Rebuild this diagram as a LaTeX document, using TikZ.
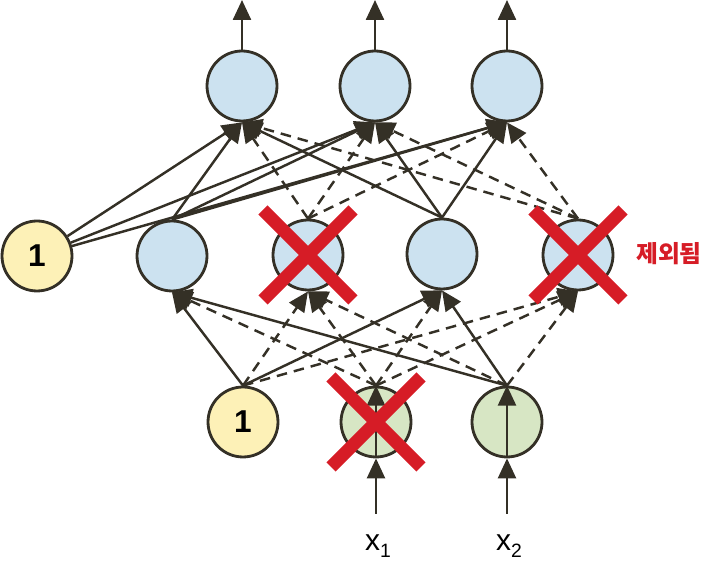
\documentclass[tikz,border=0pt]{standalone}
\usepackage{fontspec}
\setmainfont{Liberation Sans}
\newfontfamily\krfont{Noto Sans CJK KR}
\usetikzlibrary{arrows.meta}

\definecolor{nodeblue}{RGB}{204,226,240}
\definecolor{nodeyellow}{RGB}{253,241,183}
\definecolor{nodegreen}{RGB}{215,230,196}
\definecolor{linecol}{RGB}{52,48,38}
\definecolor{dropred}{RGB}{214,28,38}

\tikzset{
  neuron/.style={circle, draw=linecol, line width=1.6pt, minimum size=1.4cm,
    inner sep=0pt, font=\fontsize{18}{20}\selectfont\bfseries},
  hidden/.style={neuron, fill=nodeblue},
  bias/.style={neuron, fill=nodeyellow},
  input/.style={neuron, fill=nodegreen},
  edge/.style={line width=1.4pt, draw=linecol,
    -{Triangle[length=0.4cm,width=0.36cm]}},
  dropedge/.style={edge, dash pattern=on 6pt off 4pt},
  dropmark/.style={line width=7.4pt, draw=dropred},
}

\begin{document}
\begin{tikzpicture}[x=0.02cm, y=-0.02cm]
      \useasboundingbox (0,0) rectangle (704,563);

      % Output layer
      \node[hidden] (o1) at (242,86) {};
      \node[hidden] (o2) at (375,86) {};
      \node[hidden] (o3) at (507,86) {};
      \coordinate (out1) at (242,0);
      \coordinate (out2) at (375,0);
      \coordinate (out3) at (507,0);

      % Hidden layer
      \node[bias] (hb) at (37,256) {1};
      \node[hidden] (h1) at (172,256) {};
      \node[hidden] (h2) at (308,255) {};
      \node[hidden] (h3) at (442,254) {};
      \node[hidden] (h4) at (578,255) {};
      \node[text=dropred, font=\krfont\bfseries\fontsize{13.5}{15}\selectfont] (drop) at (669,254) {제외됨};

      % Input layer
      \node[bias] (ib) at (243,422) {1};
      \node[input] (x1) at (376,422) {};
      \node[input] (x2) at (507,422) {};
      \coordinate (in1) at (376,514);
      \coordinate (in2) at (507,514);
      \node (lx1) at (378,546) {\fontsize{17}{18}\selectfont x\raisebox{-0.45ex}{\fontsize{11}{12}\selectfont 1}};
      \node (lx2) at (509,546) {\fontsize{17}{18}\selectfont x\raisebox{-0.45ex}{\fontsize{11}{12}\selectfont 2}};

      % Outputs
      \draw[edge] (o1.north) -- (out1);
      \draw[edge] (o2.north) -- (out2);
      \draw[edge] (o3.north) -- (out3);

      % Hidden to output
      \draw[edge] (hb) -- (o1.south);
      \draw[edge] (hb) -- (o2.south);
      \draw[edge] (hb) -- (o3.south);
      \draw[edge] (h1.north) -- (o1.south);
      \draw[edge] (h1.north) -- (o2.south);
      \draw[edge] (h1.north) -- (o3.south);
      \draw[dropedge] (h2.north) -- (o1.south);
      \draw[dropedge] (h2.north) -- (o2.south);
      \draw[dropedge] (h2.north) -- (o3.south);
      \draw[edge] (h3.north) -- (o1.south);
      \draw[edge] (h3.north) -- (o2.south);
      \draw[edge] (h3.north) -- (o3.south);
      \draw[dropedge] (h4.north) -- (o1.south);
      \draw[dropedge] (h4.north) -- (o2.south);
      \draw[dropedge] (h4.north) -- (o3.south);

      % Input to hidden
      \draw[edge] (ib.north) -- (h1.south);
      \draw[dropedge] (ib.north) -- (h2.south);
      \draw[edge] (ib.north) -- (h3.south);
      \draw[dropedge] (ib.north) -- (h4.south);
      \draw[dropedge] (x1.north) -- (h1.south);
      \draw[dropedge] (x1.north) -- (h2.south);
      \draw[dropedge] (x1.north) -- (h3.south);
      \draw[dropedge] (x1.north) -- (h4.south);
      \draw[edge] (x2.north) -- (h1.south);
      \draw[dropedge] (x2.north) -- (h2.south);
      \draw[edge] (x2.north) -- (h3.south);
      \draw[dropedge] (x2.north) -- (h4.south);

      % Inputs
      \draw[edge] (in1) -- (x1.south);
      \draw[edge] (x1.south) -- (x1.north);
      \draw[edge] (in2) -- (x2.south);
      \draw[edge] (x2.south) -- (x2.north);

      % Dropped neurons
      \draw[dropmark] (h2) +(-45,-45) -- +(45,45) +(45,-45) -- +(-45,45);
      \draw[dropmark] (h4) +(-45,-45) -- +(45,45) +(45,-45) -- +(-45,45);
      \draw[dropmark] (x1) +(-45,-45) -- +(45,45) +(45,-45) -- +(-45,45);
    \end{tikzpicture}
\end{document}
